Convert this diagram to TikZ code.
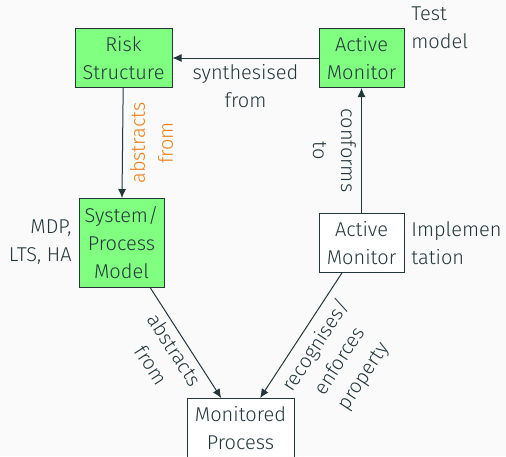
\documentclass[tikz,border=0pt]{standalone}
\usepackage{fontspec}
\setmainfont{Fira Sans Light}
\usetikzlibrary{arrows.meta}
\definecolor{ink}{HTML}{23373B}
\definecolor{bg}{HTML}{FAFAFA}
\definecolor{boxgreen}{HTML}{80FF80}
\definecolor{accent}{HTML}{EB811B}
\tikzset{
  txt/.style={text=ink, font=\fontsize{10}{14}\selectfont},
  box/.style={txt, draw=ink, line width=0.5pt, inner sep=0pt, align=center},
  greenbox/.style={box, fill=boxgreen},
  whitebox/.style={box, fill=white},
  conn/.style={draw=ink, line width=0.5pt, -{Latex[length=4.5pt,width=4pt]}},
  lbl/.style={txt, align=center, inner sep=2.5pt},
  note/.style={txt, inner sep=0pt},
}
\begin{document}
\begin{tikzpicture}[x=0.5pt,y=-0.5pt]
  \useasboundingbox (0,0) rectangle (506,456);
  \fill[bg] (0,0) rectangle (506,456);

  % boxes
  \node[greenbox, minimum width=48.5pt, minimum height=29.5pt] (risk) at (123.5,58) {Risk\\Structure};
  \node[greenbox, minimum width=42.5pt, minimum height=29.5pt] (amtest) at (361.5,58) {Active\\Monitor};
  \node[greenbox, minimum width=42.5pt, minimum height=44.5pt] (model) at (121.5,243) {System/\\Process\\Model};
  \node[whitebox, minimum width=42.5pt, minimum height=29.5pt] (amimpl) at (361.5,243) {Active\\Monitor};
  \node[whitebox, minimum width=53.5pt, minimum height=29.5pt] (mon) at (240.5,428) {Monitored\\Process};

  % side notes
  \node[note, align=left, anchor=west] (testnote) at (411,28) {Test\\model};
  \node[note, align=left, anchor=west] (implnote) at (411,243) {Implemen\\tation};
  \node[note, align=right, anchor=east] (mdpnote) at (72,242) {MDP,\\LTS, HA};

  % connectors
  \draw[conn] (amtest) -- node[lbl, below, inner sep=3pt] {synthesised\\from} (risk);
  \draw[conn] (risk) -- node[lbl, text=accent, rotate=90, anchor=north, inner sep=3.5pt] {abstracts\\from} (model);
  \draw[conn] (amimpl) -- node[lbl, rotate=-90, anchor=north] {conforms\\to} (amtest);
  \draw[conn] (model) -- node[lbl, sloped, below] {abstracts\\from} (mon);
  \draw[conn] (amimpl) -- node[lbl, sloped, below, inner sep=4pt] {recognises/\\enforces\\property} (mon);
\end{tikzpicture}
\end{document}
